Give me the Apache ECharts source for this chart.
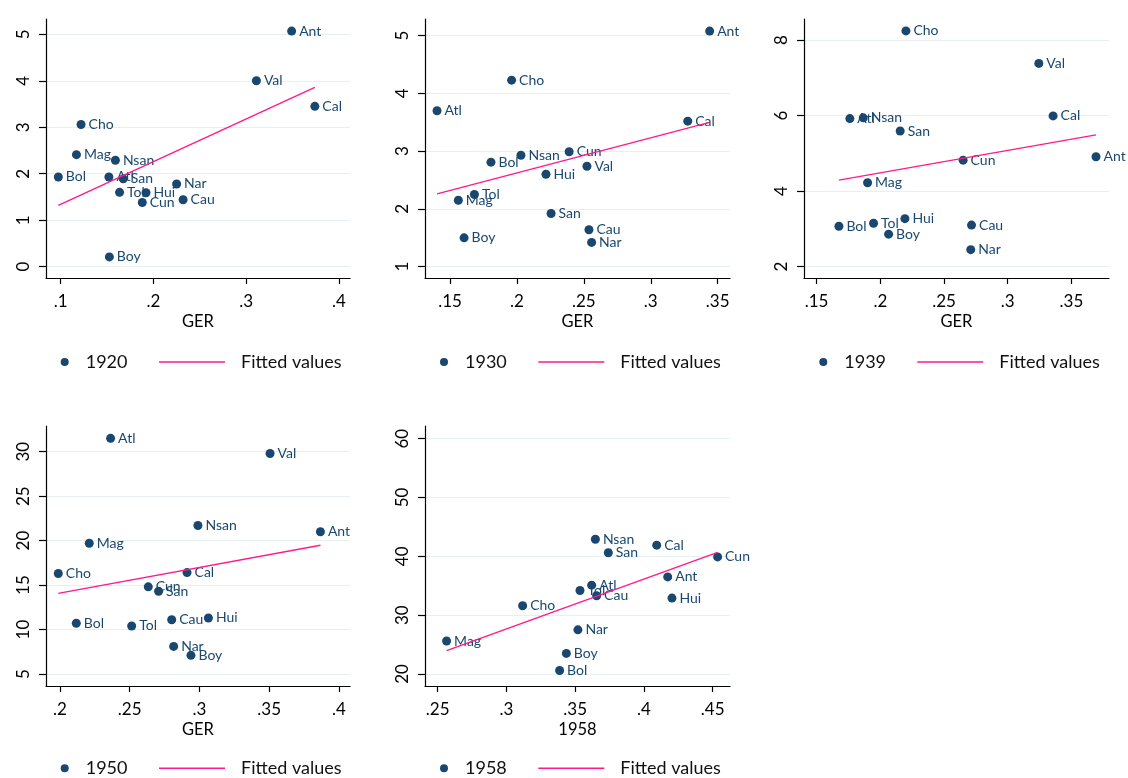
<!DOCTYPE html>
<html>
<head>
<meta charset="utf-8">
<script src="https://cdn.jsdelivr.net/npm/echarts@6/dist/echarts.min.js"></script>
<style>
  html, body { margin: 0; padding: 0; background: #ffffff; }
  #chart { width: 1128px; height: 778px; }
</style>
</head>
<body>
<div id="chart"></div>
<script>
// ---- Data: gross enrolment ratio (GER) against outcome, by department and year ----
const names1920 = ['Ant','Val','Cal','Cho','Mag','Nsan','Bol','Atl','San','Tol','Hui','Nar','Cau','Cun','Boy'];
const ger1920   = [0.349,0.311,0.374,0.122,0.117,0.159,0.0975,0.152,0.1675,0.1635,0.192,0.225,0.232,0.188,0.1525];
const val1920   = [5.07,4.00,3.45,3.06,2.41,2.29,1.93,1.93,1.89,1.60,1.59,1.78,1.44,1.38,0.21];
const fit1920   = [[0.0975,1.32],[0.374,3.86]];

const names1930 = ['Ant','Cho','Atl','Cal','Cun','Nsan','Bol','Val','Hui','Tol','Mag','San','Cau','Nar','Boy'];
const ger1930   = [0.344,0.196,0.1403,0.3276,0.239,0.203,0.1806,0.2523,0.2217,0.1682,0.1562,0.2255,0.2538,0.2558,0.1605];
const val1930   = [5.08,4.23,3.70,3.52,2.99,2.93,2.81,2.74,2.60,2.25,2.15,1.92,1.64,1.42,1.50];
const fit1930   = [[0.1403,2.26],[0.344,3.50]];

const names1939 = ['Cho','Val','Cal','Atl','Nsan','San','Ant','Cun','Mag','Hui','Tol','Bol','Cau','Boy','Nar'];
const ger1939   = [0.2201,0.3244,0.3356,0.1761,0.1866,0.2156,0.3693,0.265,0.190,0.2193,0.1947,0.1675,0.2716,0.2065,0.271];
const val1939   = [8.24,7.38,5.99,5.92,5.94,5.59,4.91,4.82,4.22,3.27,3.15,3.07,3.10,2.86,2.45];
const fit1939   = [[0.1675,4.29],[0.3693,5.49]];

const names1950 = ['Atl','Val','Nsan','Ant','Mag','Cal','Cho','Cun','San','Hui','Cau','Bol','Tol','Nar','Boy'];
const ger1950   = [0.2363,0.3506,0.2989,0.3867,0.221,0.2911,0.1988,0.2633,0.2707,0.3064,0.2801,0.2117,0.2514,0.2815,0.2939];
const val1950   = [31.5,29.8,21.7,21.0,19.7,16.4,16.3,14.8,14.3,11.3,11.1,10.7,10.4,8.1,7.1];
const fit1950   = [[0.1988,14.07],[0.3867,19.47]];

const names1958 = ['Nsan','Cal','San','Cun','Ant','Atl','Tol','Cau','Hui','Cho','Nar','Mag','Boy','Bol'];
const ger1958   = [0.3647,0.4093,0.3741,0.4536,0.4173,0.362,0.3535,0.3656,0.4204,0.3118,0.352,0.2565,0.3436,0.3387];
const val1958   = [42.9,41.9,40.6,39.9,36.5,35.1,34.2,33.3,32.9,31.6,27.5,25.6,23.5,20.6];
const fit1958   = [[0.2565,23.97],[0.4536,40.68]];

// Tick values for each panel
const xTicks1920 = [0.1,0.2,0.3,0.4];       const yTicks1920 = [0,1,2,3,4,5];
const xTicks1930 = [0.15,0.2,0.25,0.3,0.35]; const yTicks1930 = [1,2,3,4,5];
const xTicks1939 = [0.15,0.2,0.25,0.3,0.35]; const yTicks1939 = [2,4,6,8];
const xTicks1950 = [0.2,0.25,0.3,0.35,0.4];  const yTicks1950 = [5,10,15,20,25,30];
const xTicks1958 = [0.25,0.3,0.35,0.4,0.45]; const yTicks1958 = [20,30,40,50,60];

const xTitles = ['GER','GER','GER','GER','1958'];
const years   = ['1920','1930','1939','1950','1958'];

const panels = [
  { names: names1920, x: ger1920, y: val1920, fit: fit1920, xt: xTicks1920, yt: yTicks1920 },
  { names: names1930, x: ger1930, y: val1930, fit: fit1930, xt: xTicks1930, yt: yTicks1930 },
  { names: names1939, x: ger1939, y: val1939, fit: fit1939, xt: xTicks1939, yt: yTicks1939 },
  { names: names1950, x: ger1950, y: val1950, fit: fit1950, xt: xTicks1950, yt: yTicks1950 },
  { names: names1958, x: ger1958, y: val1958, fit: fit1958, xt: xTicks1958, yt: yTicks1958 }
];

// ---- Layout: plot boxes, axis extents and legend anchors ----
const layout = [
  { left: 46,  top: 19,  width: 304, height: 259, xr: [0.0842, 0.4119], yr: [-0.244, 5.33],  lgDot: 64.7,  lgLine: 159,   lgTop: 353 },
  { left: 425, top: 19,  width: 305, height: 259, xr: [0.1313, 0.3592], yr: [0.804, 5.289],  lgDot: 444,   lgLine: 538.3, lgTop: 353 },
  { left: 804, top: 19,  width: 305, height: 259, xr: [0.1401, 0.3795], yr: [1.70, 8.556],   lgDot: 823.3, lgLine: 917.3, lgTop: 353 },
  { left: 46,  top: 426, width: 304, height: 260, xr: [0.190, 0.4079],  yr: [3.65, 32.886],  lgDot: 64.7,  lgLine: 159,   lgTop: 759.3 },
  { left: 425, top: 426, width: 305, height: 260, xr: [0.2408, 0.4626], yr: [17.96, 62.15],  lgDot: 444,   lgLine: 538.3, lgTop: 759.3 }
];

const NAVY = '#1a476f';
const FIT = '#ff1a8c';
const FONT = 'Lato';
const fmtDec = v => String(v).replace(/^0\./, '.');

const grid = [], xAxis = [], yAxis = [], series = [], legend = [];

panels.forEach((p, i) => {
  const L = layout[i];
  grid.push({ left: L.left, top: L.top, width: L.width, height: L.height, containLabel: false });

  xAxis.push({
    type: 'value', gridIndex: i, min: L.xr[0], max: L.xr[1],
    name: xTitles[i], nameLocation: 'middle', nameGap: 35,
    nameTextStyle: { color: '#000', fontSize: 16.5, fontFamily: FONT },
    axisLine: { show: true, onZero: false, lineStyle: { color: '#000', width: 1.2 } },
    axisTick: { show: true, length: 6, customValues: p.xt, lineStyle: { color: '#000', width: 1.2 } },
    axisLabel: { customValues: p.xt, formatter: fmtDec, color: '#000', fontSize: 17, fontFamily: FONT, margin: 15 },
    splitLine: { show: false }
  });

  yAxis.push({
    type: 'value', gridIndex: i, min: L.yr[0], max: L.yr[1],
    axisLine: { show: true, onZero: false, lineStyle: { color: '#000', width: 1.2 } },
    axisTick: { show: true, length: 7, customValues: p.yt, lineStyle: { color: '#000', width: 1.2 } },
    axisLabel: { customValues: p.yt, rotate: 90, color: '#000', fontSize: 17, fontFamily: FONT, margin: 14 },
    splitLine: { show: true, lineStyle: { color: '#e6eff1', width: 1.2 } }
  });

  series.push({
    name: years[i], type: 'scatter', xAxisIndex: i, yAxisIndex: i,
    symbol: 'circle', symbolSize: 9,
    itemStyle: { color: NAVY, opacity: 1 },
    label: { show: true, position: 'right', distance: 3, formatter: q => q.name,
             color: NAVY, fontSize: 14, fontFamily: FONT },
    data: p.names.map((n, k) => ({ name: n, value: [p.x[k], p.y[k]] })),
    z: 2
  });

  series.push({
    name: 'Fitted values', type: 'line', xAxisIndex: i, yAxisIndex: i,
    symbol: 'none', showSymbol: false,
    lineStyle: { color: FIT, width: 1.4 },
    itemStyle: { color: FIT },
    data: p.fit,
    z: 3
  });

  legend.push({
    data: [{ name: years[i], icon: 'circle' }], left: L.lgDot - 4, top: L.lgTop, padding: 0,
    itemWidth: 8, itemHeight: 8, selectedMode: false,
    textStyle: { color: '#111', fontSize: 18, fontFamily: FONT, lineHeight: 18, padding: [0, 0, 0, 12] }
  });
  legend.push({
    data: [{ name: 'Fitted values', icon: 'rect' }], left: L.lgLine, top: L.lgTop, padding: 0,
    itemWidth: 66, itemHeight: 1.6, selectedMode: false,
    textStyle: { color: '#111', fontSize: 18, fontFamily: FONT, lineHeight: 18, padding: [0, 0, 0, 11] }
  });
});

const chart = echarts.init(document.getElementById('chart'), null, { renderer: 'canvas' });
chart.setOption({
  animation: false,
  backgroundColor: '#ffffff',
  textStyle: { fontFamily: FONT },
  grid, xAxis, yAxis, series, legend
});
</script>
</body>
</html>
